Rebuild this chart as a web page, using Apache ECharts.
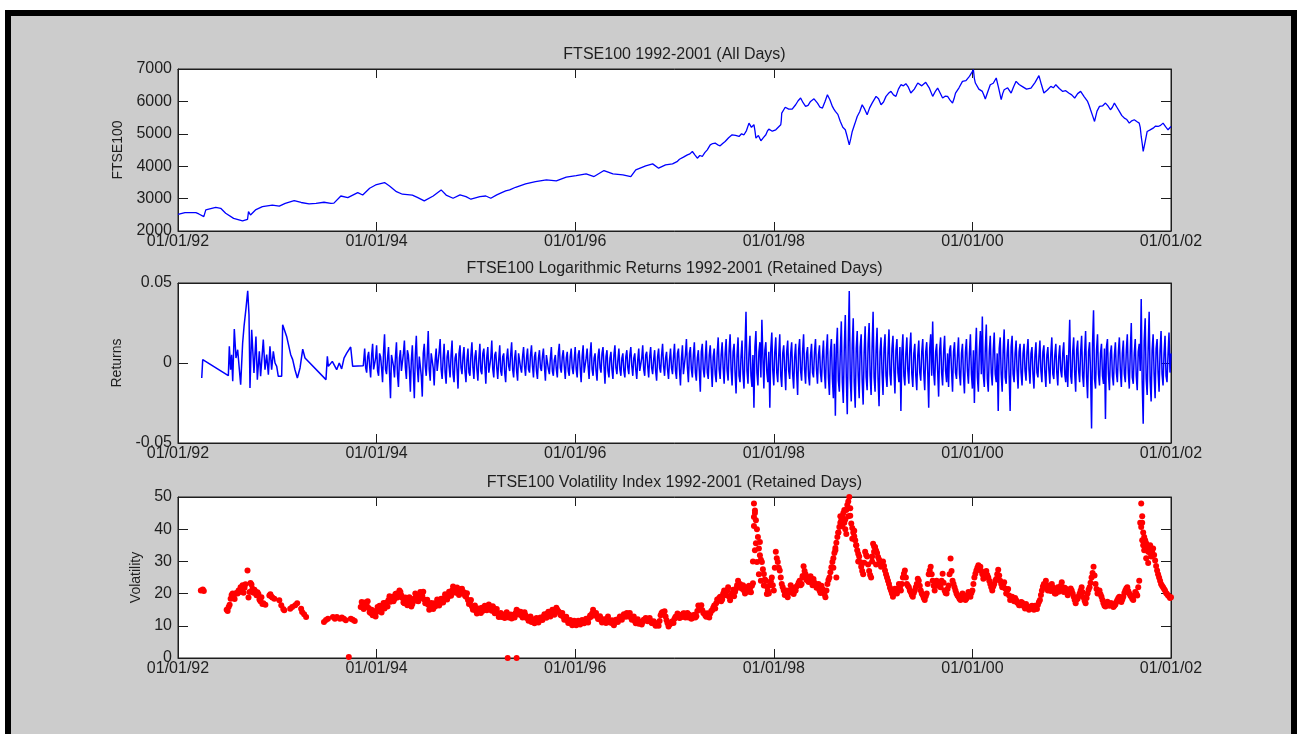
<!DOCTYPE html>
<html>
<head>
<meta charset="utf-8">
<title>FTSE100 1992-2001</title>
<script src="https://cdn.jsdelivr.net/npm/echarts@6/dist/echarts.min.js"></script>
<style>
  html, body { margin: 0; padding: 0; background: #fff; }
  /* matlab style figure frame */
  #frame { position: absolute; left: 5px; top: 10px; width: 1280px; height: 730px;
           border: 6px solid #000; border-bottom: none; background: #cccccc; }
  #chart { position: absolute; left: 0; top: 0; width: 1299px; height: 734px; }
</style>
</head>
<body>
<div id="frame"></div>
<div id="chart"></div>
<script>
// x axis runs in decimal years, ticks every two years
const xTickLabels = ['01/01/92', '01/01/94', '01/01/96', '01/01/98', '01/01/00', '01/01/02'];

// FTSE100 close, all days
const ftseDates = [
  1992.00, 1992.07, 1992.18, 1992.21, 1992.26, 1992.28, 1992.38, 1992.43, 1992.48, 1992.56,
  1992.65, 1992.70, 1992.71, 1992.73, 1992.78, 1992.85, 1992.95, 1993.02, 1993.08, 1993.17,
  1993.24, 1993.32, 1993.39, 1993.47, 1993.54, 1993.57, 1993.64, 1993.71, 1993.81, 1993.86,
  1993.93, 1993.99, 1994.08, 1994.13, 1994.20, 1994.26, 1994.36, 1994.41, 1994.48, 1994.57,
  1994.65, 1994.70, 1994.77, 1994.84, 1994.90, 1994.95, 1995.04, 1995.10, 1995.15, 1995.21,
  1995.26, 1995.30, 1995.34, 1995.40, 1995.50, 1995.60, 1995.71, 1995.81, 1995.91, 1996.01,
  1996.11, 1996.19, 1996.29, 1996.38, 1996.48, 1996.56, 1996.61, 1996.71, 1996.78, 1996.84,
  1996.91, 1996.98, 1997.05, 1997.13, 1997.18, 1997.23, 1997.28, 1997.33, 1997.36, 1997.41,
  1997.46, 1997.51, 1997.58, 1997.65, 1997.70, 1997.75, 1997.80, 1997.82, 1997.87, 1997.92,
  1997.95, 1998.02, 1998.07, 1998.08, 1998.15, 1998.22, 1998.27, 1998.32, 1998.37, 1998.44,
  1998.49, 1998.54, 1998.59, 1998.62, 1998.67, 1998.72, 1998.76, 1998.79, 1998.84, 1998.89,
  1998.94, 1998.99, 1999.03, 1999.08, 1999.13, 1999.18, 1999.23, 1999.28, 1999.33, 1999.38,
  1999.45, 1999.53, 1999.60, 1999.65, 1999.70, 1999.75, 1999.80, 1999.83, 1999.90, 1999.97,
  2000.01, 2000.03, 2000.10, 2000.13, 2000.18, 2000.24, 2000.29, 2000.32, 2000.39, 2000.44,
  2000.50, 2000.59, 2000.67, 2000.72, 2000.79, 2000.84, 2000.91, 2000.97, 2001.03, 2001.09,
  2001.16, 2001.19, 2001.23, 2001.28, 2001.34, 2001.39, 2001.43, 2001.48, 2001.53, 2001.58,
  2001.63, 2001.68, 2001.70, 2001.72, 2001.76, 2001.82, 2001.87, 2001.92, 2001.97, 2002.00
];
const ftseValues = [
  2515, 2567, 2567, 2526, 2443, 2650, 2730, 2700, 2546, 2390,
  2310, 2360, 2600, 2495, 2650, 2750, 2800, 2770, 2855, 2940,
  2880, 2835, 2855, 2887, 2855, 2860, 3080, 3030, 3185, 3110,
  3320, 3420, 3495, 3390, 3215, 3135, 3110, 3040, 2928, 3080,
  3268, 3110, 3010, 3113, 3060, 2980, 3060, 3080, 3010, 3113,
  3185, 3237, 3268, 3350, 3454, 3525, 3577, 3546, 3660, 3711,
  3763, 3680, 3866, 3763, 3732, 3680, 3887, 4010, 4072, 3938,
  4041, 4072, 4216, 4350, 4454, 4247, 4300, 4505, 4660, 4711,
  4630, 4763, 4970, 4918, 4970, 5330, 5280, 4866, 4783, 4970,
  5144, 5123, 5278, 5640, 5763, 5897, 6103, 5845, 6000, 5948,
  5794, 6206, 5845, 5690, 5381, 5124, 4660, 5072, 5536, 5897,
  5588, 5948, 6155, 5897, 6155, 6309, 6155, 6515, 6546, 6258,
  6567, 6588, 6155, 6412, 6103, 6155, 5948, 6258, 6619, 6773,
  6979, 6567, 6309, 6072, 6515, 6722, 6052, 6361, 6258, 6619,
  6464, 6412, 6794, 6258, 6464, 6515, 6309, 6258, 6103, 6309,
  6000, 5742, 5381, 5845, 5948, 5742, 5948, 5691, 5485, 5330,
  5433, 5330, 4918, 4454, 5072, 5175, 5226, 5330, 5124, 5226
];
// extra in-between readings where the line is jagged (1997 onwards)
const ftseDatesExtra = [
  1997.025, 1997.090, 1997.155, 1997.205, 1997.255, 1997.305, 1997.345, 1997.385, 1997.435, 1997.485,
  1997.545, 1997.615, 1997.675, 1997.725, 1997.775, 1997.810, 1997.845, 1997.895, 1997.935, 1997.985,
  1998.045, 1998.075, 1998.115, 1998.185, 1998.245, 1998.295, 1998.345, 1998.405, 1998.465, 1998.515,
  1998.565, 1998.605, 1998.645, 1998.695, 1998.740, 1998.775, 1998.815, 1998.865, 1998.915, 1998.965,
  1999.010, 1999.055, 1999.105, 1999.155, 1999.205, 1999.255, 1999.305, 1999.355, 1999.415, 1999.490,
  1999.565, 1999.625, 1999.675, 1999.725, 1999.775, 1999.815, 1999.865, 1999.935, 1999.990, 2000.020,
  2000.065, 2000.115, 2000.155, 2000.210, 2000.265, 2000.305, 2000.355, 2000.415, 2000.470, 2000.545,
  2000.630, 2000.695, 2000.755, 2000.815, 2000.875, 2000.940, 2001.000, 2001.060, 2001.125, 2001.175,
  2001.210, 2001.255, 2001.310, 2001.365, 2001.410, 2001.455, 2001.505, 2001.555, 2001.605, 2001.655,
  2001.690, 2001.710, 2001.740, 2001.790, 2001.845, 2001.895, 2001.945, 2001.985
];
const ftseValuesExtra = [
  4140, 4280, 4380, 4350, 4330, 4420, 4560, 4700, 4660, 4700,
  4880, 4950, 5000, 5100, 5200, 5100, 4950, 4880, 5080, 5080,
  5200, 5400, 5820, 5760, 6020, 5960, 5880, 6080, 5820, 5990,
  6050, 5760, 5600, 5200, 4900, 4850, 5300, 5680, 5760, 5800,
  5980, 6080, 5980, 6250, 6200, 6380, 6480, 6440, 6380, 6480,
  6420, 6300, 6260, 6160, 6040, 6080, 6420, 6640, 6870, 6700,
  6380, 6200, 6300, 6560, 6400, 6240, 6420, 6450, 6520, 6380,
  6580, 6520, 6350, 6420, 6400, 6330, 6200, 6240, 6150, 5880,
  5560, 5700, 5860, 5860, 5820, 5820, 5560, 5440, 5400, 5380,
  5200, 4700, 4760, 5120, 5240, 5260, 5220, 5180
];

// log returns, retained days; early sparse part with its dates
const retEarlyDates = [
  1992.239, 1992.249, 1992.507, 1992.517, 1992.530, 1992.540, 1992.551, 1992.567, 1992.584, 1992.601,
  1992.618, 1992.631, 1992.651, 1992.665, 1992.685, 1992.702, 1992.715, 1992.725, 1992.742, 1992.765,
  1992.785, 1992.799, 1992.819, 1992.832, 1992.859, 1992.876, 1992.893, 1992.910, 1992.926, 1992.943,
  1992.960, 1992.977, 1992.994, 1993.010, 1993.027, 1993.044, 1993.054, 1993.094, 1993.135, 1993.155,
  1993.178, 1993.202, 1993.229, 1993.256, 1993.279, 1993.490, 1993.504, 1993.514, 1993.531, 1993.554,
  1993.574, 1993.598, 1993.624, 1993.648, 1993.672, 1993.699, 1993.739, 1993.759, 1993.866
];
// in thousandths
const retEarly = [
  -9.4, 2.1, -7.9, 10.4, -4.2, 5.2, -11.4, 21.2, 3.1, 8.3,
  -4.2, -13.5, 12.5, 22.9, 34.3, 45.1, 30.2, -15.6, 20.8, -6.2,
  16.6, -10.4, 7.3, -8.3, 14.6, -4.2, 5.2, -7.3, 10.4, -4.2,
  7.3, 0, -2.1, -8.3, -8.7, -8.3, 23.9, 16.6, 5.2, 2.1,
  -4.2, -9.4, -3.1, 8.7, 3.1, -10.4, 4.2, -2.1, -1.0, 1.0,
  2.1, -4.2, 0, -3.7, 3.1, 6.2, 10.0, -2.1, -1.7
];
// dense part from 1993.88: retDense every 0.02 year, retDenseMid on the days between, thousandths
const retDenseFrom = 1993.88;
const retDenseStep = 0.02;
const retDense = [
  9, -6, 7, -9, 12, -5,
  11, -8, 4, -12, 18, -7, 10, -22, 6, -9, 13, -15, 8, -4, 14, -10, 5, -18, 11, -22, 17, -12, 3, -21, 12,
  -8, 20, -11, 7, -14, 9, -6, 15, -10, 12, -13, 8, -9, 14, -12, 6, -16, 11, -7, 10, -12, 9, -8, 13, -10,
  8, -11, 12, -7, 9, -13, 10, -6, 14, -9, 7, -10, 11, -8, 6, -12, 9, -5, 13, -9, 8, -11, 7, -6, 10,
  -8, 9, -6, 11, -9, 7, -10, 8, -5, 9, -11, 6, -7, 10, -8, 5, -9, 12, -6, 8, -10, 7, -8, 9, -7,
  10, -9, 8, -12, 11, -7, 9, -10, 13, -8, 6, -11, 9, -6, 10, -13, 8, -9, 7, -10, 11, -7, 9, -8, 6,
  -9, 8, -7, 10, -8, 6, -10, 9, -6, 11, -8, 7, -9, 10, -7, 8, -11, 9, -6, 12, -8, 7, -10, 9, -7,
  12, -10, 9, -14, 11, -8, 15, -12, 10, -9, 13, -11, 8, -18, 12, -9, 14, -10, 11, -15, 9, -12, 16, -10, 13,
  -13, 15, -11, 18, -14, 12, -19, 16, -12, 14, -16, 32, -13, 17, -15, -28, 20, -14, 13, 27, -16, 13, -12, -28, 19,
  -14, 16, -12, 18, -15, 11, -17, 14, -10, 13, -16, 12, -20, 15, -11, 18, -13, 10, -14, 12, -9, 15, -13, 11, -12,
  14, -16, 18, -20, 15, -22, -33, 22, -18, 26, -25, 30, -32, 45, -24, 28, -28, 20, -22, 18, -26, 23, -17, 25, -20,
  32, -18, 22, -27, 16, -20, 18, -15, 21, -14, 17, -19, 15, -12, -30, 18, -14, 16, -13, 19, -15, 12, -17, 14, -11,
  15, -17, 13, -28, 18, 26, -14, 12, -21, 16, -14, 17, -12, -15, 11, -18, 13, -10, 16, -14, 12, -19, 15, -13, 18,
  -16, -25, 22, -18, 20, 29, -15, 24, -18, 17, -14, 19, -12, -30, 16, -18, 21, -13, 15, -30, 17, -12, 14, -16, 12,
  -14, 12, -11, 15, -13, 10, -16, 13, -9, 14, -12, 11, -15, 10, -13, 16, -10, 12, -14, 11, -9, 13, -12, -15, 27,
  -13, 16, -18, 14, -12, 17, -15, 20, -22, 13, -41, 33, -16, 18, -14, 12, -13, -35, 15, -17, 11, -14, 13, -12, 16,
  -15, 14, -12, 18, -16, 25, -13, 15, -17, 12, 40, -38, 28, -20, 32, -24, 18, -22, 15, -18, 20, -14, 17, -12, 19,
  6
];
const retDenseMid = [
  -3, 4, -2, 5, -4, 3,
  -5, 6, -3, 7, -4, 3, -6, 5, -2, 4, -7, 3, -5, 6, -3, 8, -4, 2, -6, 5, -3, 4, -8, 6, -2,
  5, -4, 6, -3, 2, -5, 7, -4, 3, -6, 4, -2, 5, -7, 3, -4, 6, -3, 4, -5, 2, -6, 5, -3, 4,
  -4, 3, -5, 6, -2, 4, -6, 3, -4, 5, -3, 2, -5, 4, -6, 3, -2, 5, -4, 3, -5, 6, -3, 4, -2,
  3, -4, 5, -2, 4, -5, 3, -3, 4, -2, 5, -4, 3, -5, 2, -4, 6, -3, 4, -2, 3, -5, 4, -3, 2,
  -4, 5, -3, 4, -6, 3, -2, 5, -4, 3, -5, 4, -3, 6, -2, 4, -5, 3, -4, 5, -3, 2, -4, 3, -5,
  4, -3, 5, -2, 3, -4, 2, -5, 3, -4, 5, -2, 4, -3, 2, -5, 4, -3, 5, -2, 3, -4, 2, -3, 4,
  -5, 6, -4, 3, -7, 5, -3, 6, -4, 5, -6, 3, -5, 7, -4, 3, -6, 5, -3, 4, -7, 6, -4, 5, -3,
  6, -5, 8, -4, 7, -6, 5, -8, 4, -7, 9, -5, 6, -8, 5, 10, -6, 7, -9, 4, 8, -6, 7, 9, -5,
  7, -6, 5, -8, 6, -4, 7, -5, 6, -7, 4, -6, 8, -5, 7, -4, 6, -8, 5, -6, 7, -4, 5, -6, 4,
  -6, 8, -9, 7, -10, 12, 9, -11, 8, -12, 10, -9, 13, -10, 11, -12, 9, -8, 10, -11, 7, -9, 12, -8, 10,
  -9, 8, -10, 7, -6, 9, -8, 6, -7, 9, -5, 8, -6, 10, 7, -8, 6, -5, 9, -7, 6, -8, 5, -6, 7,
  -6, 7, -5, 9, -8, -6, 7, -5, 8, -6, 7, -5, 6, 8, -5, 7, -6, 5, -7, 6, -8, 7, -5, 6, -7,
  8, 7, -9, 8, -7, -8, 9, -10, 7, -6, 8, -7, 6, 9, -7, 8, -9, 6, -8, 10, -7, 6, -5, 7, -6,
  6, -5, 7, -4, 6, -7, 5, -6, 4, -5, 7, -6, 5, -4, 6, -7, 5, -6, 4, -5, 6, -7, 5, 6, -8,
  7, -6, 8, -5, 7, -8, 6, -9, 7, -6, 12, -10, 8, -7, 6, -8, 9, 10, -7, 6, -8, 5, -6, 7, -5,
  6, -7, 8, -6, 7, -9, 6, -8, 7, -5, -12, 14, -10, 9, -11, 8, -7, 9, -6, 8, -7, 6, -8, 5, -6
];

// volatility index, scattered readings with their own dates
const volDates = [
  1992.23, 1992.25, 1992.26, 1992.49, 1992.50, 1992.51, 1992.52, 1992.53, 1992.54, 1992.55,
  1992.56, 1992.57, 1992.58, 1992.59, 1992.60, 1992.61, 1992.62, 1992.63, 1992.64, 1992.65,
  1992.66, 1992.67, 1992.68, 1992.70, 1992.71, 1992.72, 1992.73, 1992.74, 1992.75, 1992.76,
  1992.77, 1992.78, 1992.79, 1992.80, 1992.81, 1992.82, 1992.83, 1992.84, 1992.85, 1992.86,
  1992.88, 1992.92, 1992.93, 1992.94, 1992.95, 1992.97, 1993.02, 1993.04, 1993.06, 1993.07,
  1993.13, 1993.15, 1993.18, 1993.20, 1993.24, 1993.25, 1993.27, 1993.29, 1993.47, 1993.49,
  1993.51, 1993.56, 1993.58, 1993.60, 1993.63, 1993.65, 1993.67, 1993.69, 1993.72, 1993.74,
  1993.76, 1993.78, 1995.32, 1995.41,
  1997.79, 1997.80, 1997.80, 1997.81, 1997.81, 1997.82, 1997.83, 1997.85, 1997.86, 1997.87,
  1997.90, 1997.93, 1998.29, 1998.60, 1998.62, 1998.63, 1998.65, 1998.67, 1998.69, 1998.71,
  1998.72, 1998.73, 1998.75, 1998.77, 1998.79, 1998.81, 1998.83, 1998.85, 1998.99, 1999.01,
  1999.03, 2001.70, 2001.71, 2001.71, 2001.72, 2001.73, 2001.75, 2001.77, 2001.79
];
const volValues = [
  21.0, 21.3, 20.8, 15.0, 14.6, 15.8, 16.5, 18.4, 19.6, 20.0,
  19.3, 18.3, 20.0, 20.2, 20.0, 21.0, 20.5, 22.0, 21.5, 22.6,
  20.3, 21.8, 22.9, 27.2, 18.8, 20.5, 23.3, 22.8, 21.5, 20.3,
  21.2, 20.6, 19.5, 20.4, 19.9, 18.2, 17.6, 18.9, 16.8, 17.0,
  16.5, 19.4, 19.8, 19.1, 18.8, 18.4, 17.9, 16.4, 15.2, 14.8,
  15.3, 15.8, 16.4, 17.0, 15.3, 14.3, 13.6, 12.7, 11.2, 11.8,
  12.2, 12.7, 12.2, 12.7, 12.2, 12.6, 12.2, 11.7, 0.3, 12.2,
  11.9, 11.5, 0, 0,
  30.0, 43.8, 41.0, 45.0, 33.5, 35.6, 29.8, 26.0, 36.0, 24.0,
  22.5, 19.9, 25.5, 28.0, 33.5, 25.0, 39.0, 44.0, 41.0, 46.0,
  40.0, 38.5, 44.0, 46.5, 37.0, 39.5, 35.0, 30.0, 31.5, 33.0,
  29.0, 40.7, 42.0, 36.6, 35.0, 33.5, 31.0, 29.5, 35.0
];
// dense part from 1993.84: volDense every 0.02 year, volDenseMid on the days between
const volDenseFrom = 1993.84;
const volDenseStep = 0.02;
const volDense = [
  15.8, 16.6, 17.2, 16.4, 15.5, 14.0, 13.3, 13.8, 14.3,
  14.8, 15.2, 16.0, 15.4, 17.2, 18.0, 17.5, 19.0, 18.3, 20.0, 19.2, 20.5, 18.6, 17.0, 18.0, 17.2, 17.8, 16.8, 18.5, 19.0, 17.6, 20.5, 19.3, 18.2, 17.0,
  16.5, 15.8, 16.2, 17.0, 16.4, 17.5, 17.0, 18.0, 18.6, 19.5, 19.0, 20.2, 21.0, 21.6, 20.3, 21.2, 20.0, 21.5, 20.4, 19.0, 18.0, 17.2, 16.0, 15.2, 14.7,
  14.2, 15.0, 15.6, 14.8, 16.0, 15.4, 16.0, 14.7, 15.5, 14.6, 13.8, 13.0, 12.7, 13.3, 13.0, 13.6, 12.8, 12.3, 13.4, 14.0, 14.6, 13.8, 13.2, 13.6, 13.3,
  12.6, 12.3, 11.2, 11.7, 11.4, 11.9, 11.7, 12.4, 12.8, 13.2, 13.8, 13.4, 14.3, 14.0, 14.6, 15.0, 14.2, 13.2, 12.8, 12.0, 11.7, 11.0, 10.8, 11.2, 10.6,
  10.8, 11.2, 10.9, 11.5, 11.3, 11.7, 12.4, 12.8, 15.0, 13.3, 12.8, 12.2, 11.7, 11.2, 11.6, 12.2, 11.7, 11.0, 10.6, 11.2, 11.7, 12.2, 12.6, 12.8, 13.4,
  14.0, 13.2, 12.6, 12.2, 11.5, 11.2, 10.6, 11.0, 11.2, 11.7, 12.2, 11.8, 11.5, 10.8, 10.6, 10.2, 10.0, 13.3, 14.3, 14.5, 11.7, 9.8, 10.6, 11.4, 12.2,
  12.8, 13.3, 12.6, 12.8, 13.8, 13.2, 12.6, 13.0, 12.4, 13.4, 13.0, 16.3, 15.8, 14.8, 13.8, 12.8, 13.3, 13.8, 14.8, 16.3, 17.0, 17.9, 19.0, 18.2, 21.0,
  19.5, 22.0, 17.9, 20.0, 19.2, 21.5, 24.0, 23.0, 21.5, 21.0, 22.0, 20.6, 21.5, 22.4, 48.0, 42.8, 37.6, 31.9, 29.8, 26.1, 24.0, 21.0, 22.6, 25.0, 21.0,
  33.0, 29.8, 27.2, 23.0, 21.0, 19.9, 18.9, 21.0, 22.0, 19.9, 21.0, 22.6, 24.0, 23.0, 28.5, 26.0, 25.0, 24.0, 23.5, 24.5, 23.0, 22.0, 21.0, 22.4, 21.0,
  18.9, 23.0, 25.0, 28.2, 31.0, 34.2, 37.6, 40.7, 42.8, 45.0, 43.0, 47.5, 50.0, 41.8, 39.0, 36.6, 33.5, 31.5, 28.3, 26.0, 33.0, 31.5, 27.0, 25.0, 35.5,
  34.5, 32.6, 30.6, 28.3, 30.0, 27.2, 25.0, 23.0, 21.0, 19.0, 21.5, 20.0, 23.0, 21.0, 25.0, 27.2, 23.0, 22.0, 20.4, 19.0, 21.0, 23.0, 24.0, 21.0, 19.5,
  18.0, 20.0, 26.0, 28.3, 24.0, 21.0, 24.0, 23.0, 22.0, 26.2, 21.0, 20.0, 22.5, 30.9, 24.0, 22.0, 20.0, 19.0, 18.0, 20.0, 19.0, 18.5, 20.5, 19.0, 21.0,
  25.0, 27.2, 28.8, 28.3, 26.0, 25.0, 27.0, 25.0, 23.0, 21.0, 23.0, 24.5, 27.4, 24.0, 22.0, 23.5, 20.0, 21.4, 18.0, 19.0, 17.6, 18.0, 17.0, 16.4, 17.2,
  16.0, 16.8, 15.6, 15.3, 16.2, 15.0, 15.8, 16.5, 18.0, 21.0, 23.0, 24.0, 21.0, 22.0, 23.0, 21.0, 20.0, 22.0, 21.0, 23.5, 20.5, 21.5, 19.5, 20.4, 21.0,
  19.0, 17.0, 18.4, 20.0, 22.0, 18.8, 17.0, 20.0, 22.0, 25.0, 28.3, 23.0, 20.0, 21.0, 19.0, 17.0, 16.0, 17.5, 16.2, 17.0, 15.8, 16.6, 18.0, 19.0, 17.4,
  19.0, 21.0, 22.0, 20.0, 19.0, 18.0, 20.5, 19.4, 24.0, 48.0, 39.0, 36.6, 34.5, 33.5, 31.5, 34.0, 30.3, 27.2, 25.0, 23.0, 22.0, 21.0, 19.9, 19.2, 18.9
];
const volDenseMid = [
  17.4, 15.2, 16.0, 17.6, 14.2, 15.0, 14.6, 12.9, 15.8,
  16.2, 14.1, 17.1, 16.6, 16.0, 19.2, 18.6, 17.6, 19.9, 18.8, 21.0, 19.4, 17.2, 18.8, 16.4, 18.9, 16.0, 17.6, 20.0, 17.8, 19.1, 18.6, 20.6, 17.0, 18.1,
  15.0, 17.1, 15.2, 16.0, 18.2, 16.3, 18.4, 17.2, 19.8, 18.2, 20.6, 19.3, 22.2, 20.4, 21.9, 19.6, 21.4, 20.2, 19.3, 20.1, 16.8, 18.0, 15.0, 16.3, 13.8,
  15.4, 14.0, 14.7, 16.2, 14.8, 16.6, 15.0, 16.1, 13.9, 15.2, 12.7, 14.0, 13.5, 12.4, 14.2, 12.6, 13.5, 13.2, 12.6, 15.0, 13.5, 14.4, 12.6, 14.2, 12.4,
  11.6, 12.9, 12.0, 10.8, 12.4, 11.0, 12.6, 11.8, 13.6, 12.5, 14.4, 12.9, 15.0, 13.4, 15.6, 14.5, 13.4, 14.0, 11.9, 12.8, 10.9, 11.8, 10.2, 11.6, 10.2,
  11.6, 10.4, 11.8, 10.8, 12.2, 11.0, 13.2, 13.8, 13.9, 14.0, 12.1, 13.0, 11.0, 12.0, 10.9, 12.9, 11.0, 11.7, 10.2, 11.9, 11.2, 12.9, 11.9, 13.6, 12.8,
  13.0, 14.0, 11.9, 12.9, 10.8, 12.0, 11.2, 10.4, 11.9, 12.4, 11.4, 12.4, 10.9, 11.4, 10.0, 10.9, 11.5, 14.0, 13.6, 12.9, 10.8, 10.4, 11.2, 10.9, 12.8,
  13.8, 12.4, 13.4, 13.9, 12.6, 14.0, 13.4, 12.2, 13.2, 12.6, 14.6, 15.2, 16.4, 14.0, 13.2, 13.9, 12.6, 14.6, 15.6, 15.4, 18.2, 18.6, 17.6, 20.0, 19.6,
  20.8, 19.0, 19.4, 21.2, 20.6, 22.6, 22.2, 21.8, 22.6, 20.0, 21.2, 22.4, 20.4, 23.2, 45.8, 40.0, 34.0, 30.5, 27.6, 24.4, 22.2, 20.0, 23.8, 22.6, 28.0,
  31.0, 28.0, 25.0, 22.0, 19.6, 21.0, 20.2, 22.6, 20.6, 20.8, 22.2, 23.4, 22.6, 25.0, 27.0, 24.2, 23.6, 25.4, 22.6, 23.4, 21.8, 23.0, 20.2, 21.4, 19.8,
  21.0, 24.2, 26.6, 29.8, 32.6, 35.8, 39.0, 42.0, 44.0, 42.0, 46.0, 48.6, 44.2, 40.4, 37.8, 35.0, 32.4, 29.8, 27.0, 29.6, 32.0, 29.0, 25.8, 30.0, 34.6,
  33.4, 31.4, 29.4, 29.4, 28.6, 26.0, 24.0, 21.8, 20.0, 20.4, 20.6, 21.6, 22.0, 23.0, 26.2, 25.0, 22.4, 21.0, 19.6, 20.2, 22.0, 24.6, 22.4, 20.0, 18.6,
  19.2, 23.0, 27.2, 26.0, 22.4, 22.6, 23.2, 22.2, 24.0, 23.4, 20.2, 21.4, 26.0, 27.0, 23.0, 21.0, 19.4, 18.4, 19.2, 19.4, 18.0, 19.6, 19.8, 20.2, 23.0,
  26.2, 28.0, 27.4, 27.0, 24.6, 26.2, 25.8, 24.0, 22.0, 22.2, 24.0, 26.0, 25.6, 23.0, 22.8, 21.6, 21.0, 19.4, 18.8, 18.2, 18.6, 17.2, 16.4, 17.4, 16.6,
  15.4, 16.0, 15.0, 16.0, 15.4, 16.2, 15.2, 17.4, 19.6, 22.2, 22.0, 22.6, 22.4, 20.8, 22.0, 20.0, 21.2, 20.6, 22.4, 22.0, 21.8, 20.4, 20.8, 21.6, 20.0,
  18.0, 18.2, 19.2, 21.0, 20.4, 17.8, 18.6, 21.2, 23.4, 26.4, 25.6, 21.4, 20.6, 19.8, 18.0, 16.2, 16.8, 16.6, 17.0, 16.4, 16.2, 17.4, 18.6, 18.0, 18.2,
  20.2, 21.6, 20.8, 19.4, 18.4, 19.4, 20.0, 22.0, 42.0, 44.0, 37.6, 35.6, 33.0, 32.6, 33.0, 32.0, 28.6, 26.0, 24.0, 22.4, 21.4, 20.2, 19.4, 18.6
];

const FONT = '"Liberation Sans", Arial, Helvetica, sans-serif';
const INK = '#1e1e1e';

function pairs(xs, ys, k) {
  return xs.map((x, i) => [x, ys[i] * k]);
}
// readings every `step` from `from`, with the optional in-between readings half a step later
function evenly(from, step, ys, mids, k) {
  const out = [];
  ys.forEach((y, i) => {
    const t = from + i * step;
    out.push([+t.toFixed(3), y * k]);
    if (mids[i] !== undefined) out.push([+(t + step / 2).toFixed(3), mids[i] * k]);
  });
  return out;
}

const ftseData = pairs(ftseDates, ftseValues, 1)
  .concat(pairs(ftseDatesExtra, ftseValuesExtra, 1))
  .sort((a, b) => a[0] - b[0]);
const retData = pairs(retEarlyDates, retEarly, 0.001)
  .concat(evenly(retDenseFrom, retDenseStep, retDense, retDenseMid, 0.001));
const volData = pairs(volDates, volValues, 1)
  .concat(evenly(volDenseFrom, volDenseStep, volDense, volDenseMid, 1));

const panels = [
  { top: 69,  height: 162, title: 'FTSE100 1992-2001 (All Days)', name: 'FTSE100', nameGap: 40, min: 2000, max: 7000, interval: 1000 },
  { top: 283, height: 160, title: 'FTSE100 Logarithmic Returns 1992-2001 (Retained Days)', name: 'Returns', nameGap: 43, min: -0.05, max: 0.05, interval: 0.05 },
  { top: 497, height: 161, title: 'FTSE100 Volatility Index 1992-2001 (Retained Days)', name: 'Volatility', nameGap: 24, min: 0, max: 50, interval: 10 }
];

const chart = echarts.init(document.getElementById('chart'));

const grid = [], xAxis = [], yAxis = [], title = [];
panels.forEach((p, i) => {
  grid.push({ left: 178, top: p.top, width: 993, height: p.height, show: true,
    backgroundColor: '#fff', borderColor: INK, borderWidth: 1 });
  title.push({ text: p.title, left: 674.5, top: p.top - 22, textAlign: 'center', padding: 0,
    textStyle: { fontFamily: FONT, fontSize: 16, fontWeight: 'normal', color: INK } });
  const xBase = { gridIndex: i, type: 'value', min: 1992, max: 2002, interval: 2,
    splitLine: { show: false }, axisLine: { onZero: false, lineStyle: { color: INK } },
    axisTick: { inside: true, length: 9, lineStyle: { color: INK } } };
  xAxis.push(Object.assign({}, xBase, { position: 'bottom',
    axisLabel: { margin: 3, fontFamily: FONT, fontSize: 16, color: INK,
      formatter: v => xTickLabels[Math.round((v - 1992) / 2)] } }));
  xAxis.push(Object.assign({}, xBase, { position: 'top', axisLabel: { show: false } }));
  const yBase = { gridIndex: i, type: 'value', min: p.min, max: p.max, interval: p.interval,
    splitLine: { show: false }, axisLine: { show: true, onZero: false, lineStyle: { color: INK } },
    axisTick: { inside: true, length: 10, lineStyle: { color: INK } } };
  yAxis.push(Object.assign({}, yBase, { position: 'left', name: p.name, nameLocation: 'middle',
    nameGap: p.nameGap, nameTextStyle: { fontFamily: FONT, fontSize: 14, color: INK },
    axisLabel: { margin: 6, fontFamily: FONT, fontSize: 16, color: INK, formatter: v => String(v) } }));
  yAxis.push(Object.assign({}, yBase, { position: 'right', axisLabel: { show: false } }));
});

chart.setOption({
  animation: false,
  backgroundColor: 'transparent',
  title: title,
  grid: grid,
  xAxis: xAxis,
  yAxis: yAxis,
  series: [
    { type: 'line', xAxisIndex: 0, yAxisIndex: 0, data: ftseData, showSymbol: false,
      lineStyle: { color: '#0000ff', width: 1.3 } },
    { type: 'line', xAxisIndex: 2, yAxisIndex: 2, data: retData, showSymbol: false,
      lineStyle: { color: '#0000ff', width: 1.5 } },
    { type: 'scatter', xAxisIndex: 4, yAxisIndex: 4, data: volData, symbolSize: 6,
      itemStyle: { color: '#ff0000', opacity: 1 } }
  ]
});
</script>
</body>
</html>
